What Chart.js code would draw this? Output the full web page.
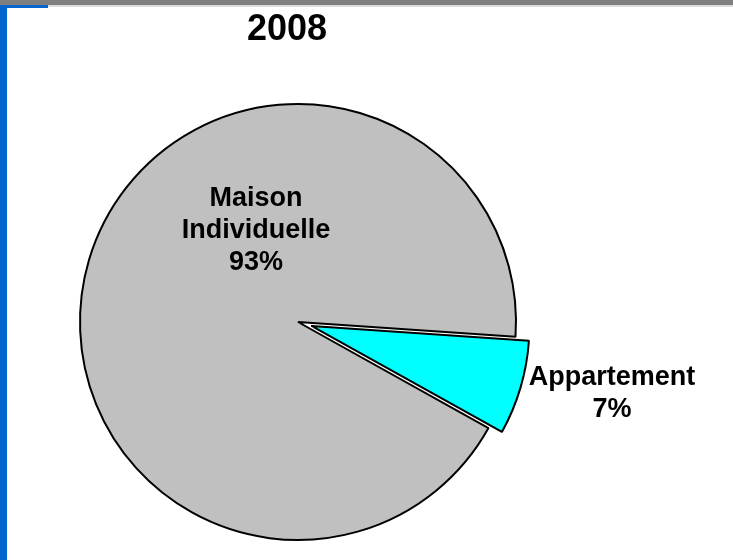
<!DOCTYPE html>
<html>
<head>
<meta charset="utf-8">
<script src="https://cdn.jsdelivr.net/npm/chart.js@4/dist/chart.umd.min.js"></script>
<style>
  body { margin: 0; background: #fff; overflow: hidden; }
  #page { position: relative; width: 733px; height: 560px; }
  .deco { position: absolute; }
  canvas { position: absolute; left: 0; top: 0; }
</style>
</head>
<body>
<div id="page">
  <div class="deco" style="left:0;top:0;width:733px;height:5px;background:#7f7f7f"></div>
  <div class="deco" style="left:0;top:5px;width:733px;height:2px;background:#dcdcdc"></div>
  <div class="deco" style="left:0;top:5px;width:48px;height:3px;background:#0066cc"></div>
  <div class="deco" style="left:0;top:5px;width:7px;height:555px;background:#0066cc"></div>
  <canvas id="Rond" width="733" height="560"></canvas>
</div>
<script>
var titre = '2008';
var categories = ['Maison Individuelle', 'Appartement'];
var pourcentages = [93, 7];
var couleurs = ['#c0c0c0', '#00ffff'];
var eclatement = [0, 14]; // decalage de la part en pixels

// position des etiquettes : angle (degres) et distance en rayons depuis le centre
var posEtiquettes = [{ angle: -114.7, dist: 0.461 }, { angle: 12.85, dist: 1.477 }];

// dessine les parts avec le decalage (l'option offset de Chart.js agrandit aussi la part)
var parts = {
    id: 'parts',
    beforeDatasetDraw: function (chart, args) {
        if (args.index !== 0) return;
        var ctx = chart.ctx;
        args.meta.data.forEach(function (arc, i) {
            var p = arc.getProps(['startAngle', 'endAngle'], true);
            var mid = (p.startAngle + p.endAngle) / 2;
            ctx.save();
            ctx.translate(Math.cos(mid) * eclatement[i], Math.sin(mid) * eclatement[i]);
            arc.draw(ctx);
            ctx.restore();
        });
        return false;
    }
};

var etiquettes = {
    id: 'etiquettes',
    afterDraw: function (chart) {
        var ctx = chart.ctx;
        var meta = chart.getDatasetMeta(0);
        ctx.save();
        ctx.fillStyle = '#000';
        ctx.textAlign = 'center';
        // titre
        ctx.font = 'bold 36px "Liberation Sans", Arial, sans-serif';
        ctx.textBaseline = 'alphabetic';
        ctx.fillText(titre, 287, 40);
        // etiquettes des parts
        ctx.font = 'bold 27px "Liberation Sans", Arial, sans-serif';
        ctx.textBaseline = 'middle';
        meta.data.forEach(function (arc, i) {
            var p = arc.getProps(['x', 'y', 'outerRadius'], true);
            var a = posEtiquettes[i].angle * Math.PI / 180;
            var cx = p.x + Math.cos(a) * posEtiquettes[i].dist * p.outerRadius;
            var cy = p.y + Math.sin(a) * posEtiquettes[i].dist * p.outerRadius;
            var lignes = categories[i].split(' ').concat([pourcentages[i] + '%']);
            for (var k = 0; k < lignes.length; k++) {
                ctx.fillText(lignes[k], cx, cy + (k - (lignes.length - 1) / 2) * 32);
            }
        });
        ctx.restore();
    }
};

new Chart(document.getElementById('Rond'), {
    type: 'pie',
    data: {
        labels: categories,
        datasets: [{
            data: pourcentages,
            backgroundColor: couleurs,
            borderColor: '#000',
            borderWidth: 2,
            hoverOffset: 0
        }]
    },
    options: {
        responsive: false,
        animation: false,
        rotation: 119.1,
        radius: 218,
        layout: { padding: { top: 84, left: 10, right: 147, bottom: 0 } },
        plugins: {
            legend: { display: false },
            tooltip: { enabled: false }
        }
    },
    plugins: [parts, etiquettes]
});
</script>
</body>
</html>
